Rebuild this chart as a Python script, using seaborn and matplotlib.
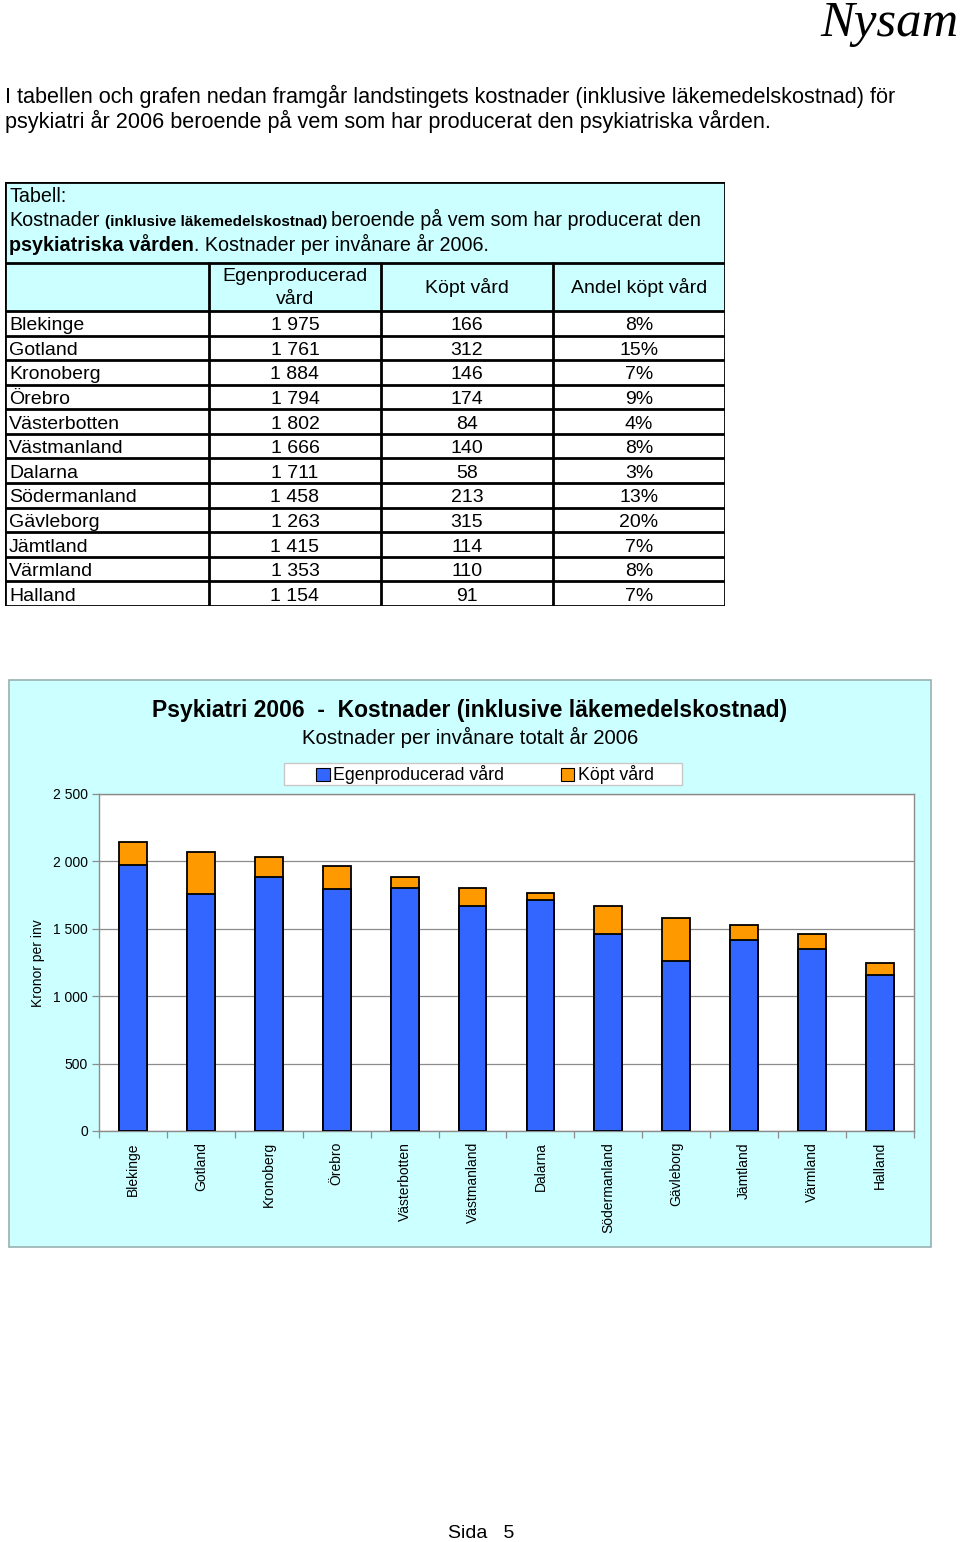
import numpy as np
import pandas as pd
import matplotlib
matplotlib.use('Agg')
import matplotlib.pyplot as plt
from matplotlib.patches import Rectangle, Patch
import seaborn as sns

# ---------------- data ----------------
regions = ["Blekinge", "Gotland", "Kronoberg", "Örebro", "Västerbotten", "Västmanland",
           "Dalarna", "Södermanland", "Gävleborg", "Jämtland", "Värmland", "Halland"]
egen = [1975, 1761, 1884, 1794, 1802, 1666, 1711, 1458, 1263, 1415, 1353, 1154]
kopt = [166, 312, 146, 174, 84, 140, 58, 213, 315, 114, 110, 91]
andel = ["8%", "15%", "7%", "9%", "4%", "8%", "3%", "13%", "20%", "7%", "8%", "7%"]
col_headers = ["Egenproducerad\nvård", "Köpt vård", "Andel köpt vård"]
series_names = ["Egenproducerad vård", "Köpt vård"]
yticks = [0, 500, 1000, 1500, 2000, 2500]
ytick_labels = ["0", "500", "1 000", "1 500", "2 000", "2 500"]

# ---------------- setup ----------------
W, H = 960, 1542
sns.set_theme(style="white")
plt.rcParams['font.family'] = ['Liberation Sans', 'DejaVu Sans']
plt.rcParams['text.color'] = 'black'
plt.rcParams['axes.labelcolor'] = 'black'
plt.rcParams['xtick.color'] = 'black'
plt.rcParams['ytick.color'] = 'black'

CYAN = '#CCFFFF'
BLUE = '#3366FF'
ORANGE = '#FF9900'

fig = plt.figure(figsize=(W / 100, H / 100), dpi=100, facecolor='white')
renderer = fig.canvas.get_renderer()


def fx(x):
    return x / W


def fy(y):
    return 1 - y / H


def rich_line(x, y, pieces):
    """pieces: list of (text, bold, size, space_after)"""
    cx = x
    for s, bold, sz, sp in pieces:
        t = fig.text(fx(cx), fy(y), s, fontsize=sz,
                     fontweight='bold' if bold else 'normal',
                     ha='left', va='baseline', color='black', zorder=5)
        cx += t.get_window_extent(renderer).width
        if sp:
            cx += sz * 100 / 72 * 0.278


# ---------------- header ----------------
fig.text(fx(958), fy(36), "Nysam", fontsize=36.5, family=['Liberation Serif'],
         style='italic', ha='right', va='baseline')

fig.text(fx(5), fy(103), "I tabellen och grafen nedan framgår landstingets kostnader "
         "(inklusive läkemedelskostnad) för", fontsize=15.6, ha='left', va='baseline')
fig.text(fx(5), fy(128), "psykiatri år 2006 beroende på vem som har producerat den "
         "psykiatriska vården.", fontsize=15.6, ha='left', va='baseline')

# ---------------- table ----------------
TX0, TY0, TW, TH = 5, 182, 720, 424
ax_t = fig.add_axes([fx(TX0), fy(TY0 + TH), TW / W, TH / H])
ax_t.set_xlim(0, TW)
ax_t.set_ylim(TH, 0)
ax_t.axis('off')

col_edges = [0, 204, 376, 548, 720]
title_h = 81
head_h = 48
n = len(regions)
row_h = (TH - title_h - head_h) / n

ax_t.add_patch(Rectangle((0, 0), TW, title_h + head_h, facecolor=CYAN, edgecolor='none'))
# horizontal lines
hy = [0, title_h, title_h + head_h] + [title_h + head_h + row_h * (i + 1) for i in range(n)]
for yy in hy:
    ax_t.plot([0, TW], [yy, yy], color='black', lw=2, solid_capstyle='projecting')
# vertical lines
ax_t.plot([0, 0], [0, TH], color='black', lw=2)
ax_t.plot([TW, TW], [0, TH], color='black', lw=2)
for xe in col_edges[1:-1]:
    ax_t.plot([xe, xe], [title_h, TH], color='black', lw=2)

# headers
for j, hdr in enumerate(col_headers):
    cx = (col_edges[j + 1] + col_edges[j + 2]) / 2
    ax_t.text(cx, title_h + head_h / 2 + 1, hdr, ha='center', va='center',
              fontsize=14, linespacing=1.45)

for i in range(n):
    cy = title_h + head_h + row_h * (i + 0.5) + 2.5
    ax_t.text(4, cy, regions[i], ha='left', va='center', fontsize=14)
    vals = [f"{egen[i]:,}".replace(",", " "), str(kopt[i]), andel[i]]
    for j, v in enumerate(vals):
        cx = (col_edges[j + 1] + col_edges[j + 2]) / 2
        ax_t.text(cx, cy, v, ha='center', va='center', fontsize=14)

# table title (mixed fonts)
rich_line(9, 202, [("Tabell:", False, 14.2, False)])
rich_line(9, 226, [("Kostnader", False, 14.2, True),
                   ("(inklusive läkemedelskostnad)", True, 11, True),
                   ("beroende på vem som har producerat den", False, 14.2, False)])
rich_line(9, 251, [("psykiatriska vården", True, 14.2, False),
                   (". Kostnader per invånare år 2006.", False, 14.2, False)])

# ---------------- chart ----------------
fig.patches.append(Rectangle((fx(9), fy(1247)), 922 / W, 567 / H, transform=fig.transFigure,
                             facecolor=CYAN, edgecolor='#9AB0B0', lw=1.2, zorder=-1))

ax = fig.add_axes([fx(99), fy(1131), (914 - 99) / W, (1131 - 794) / H])
ax.set_facecolor('white')

df = pd.DataFrame({"region": regions, "egen": egen, "kopt": kopt})
df["total"] = df["egen"] + df["kopt"]

sns.barplot(data=df, x="region", y="total", color=ORANGE, saturation=1, errorbar=None,
            width=0.41, edgecolor='black', linewidth=1.3, ax=ax, zorder=3)
sns.barplot(data=df, x="region", y="egen", color=BLUE, saturation=1, errorbar=None,
            width=0.41, edgecolor='black', linewidth=1.3, ax=ax, zorder=4)

ax.set_ylim(0, 2500)
ax.set_xlim(-0.5, n - 0.5)
ax.set_axisbelow(True)
ax.set_yticks(yticks)
ax.set_yticklabels(ytick_labels, fontsize=10)
ax.yaxis.grid(True, color='#8C8C8C', lw=0.9)
ax.xaxis.grid(False)
ax.set_xticks(range(n))
ax.set_xticklabels(regions, rotation=90, fontsize=10, va='top', ha='center')
ax.set_xticks(np.arange(-0.5, n, 1), minor=True)
ax.tick_params(axis='x', which='major', length=0, pad=8)
ax.tick_params(axis='x', which='minor', length=5, color='#8C8C8C', width=0.9,
               bottom=True, direction='out')
ax.tick_params(axis='y', which='major', length=5, color='#8C8C8C', width=0.9,
               left=True, direction='out', pad=3, labelcolor='black')
for sp in ax.spines.values():
    sp.set_color('#8C8C8C')
    sp.set_linewidth(1.0)
ax.set_xlabel("")
ax.set_ylabel("")

fig.text(fx(38), fy(963), "Kronor per inv", rotation=90, fontsize=10,
         ha='center', va='center')

fig.text(fx(470), fy(711), "Psykiatri 2006  -  Kostnader (inklusive läkemedelskostnad)",
         fontsize=16.5, fontweight='bold', ha='center', va='center')
fig.text(fx(470), fy(737), "Kostnader per invånare totalt år 2006",
         fontsize=14.7, ha='center', va='center')

# legend
fig.patches.append(Rectangle((fx(284), fy(785)), 398 / W, 22 / H, transform=fig.transFigure,
                             facecolor='white', edgecolor='#C8C8C8', lw=1, zorder=1))
handles = [Patch(facecolor=BLUE, edgecolor='black', lw=0.8),
           Patch(facecolor=ORANGE, edgecolor='black', lw=0.8)]
fig.legend(handles, series_names, loc='center', bbox_to_anchor=(fx(485), fy(775)),
           ncol=2, frameon=False, fontsize=12.8, handlelength=0.75, handleheight=0.75,
           handletextpad=0.2, columnspacing=3.2, borderpad=0.1)

# footer
fig.text(fx(481), fy(1533), "Sida   5", fontsize=14, ha='center', va='center')

fig.savefig("out.png", dpi=100, facecolor='white')
